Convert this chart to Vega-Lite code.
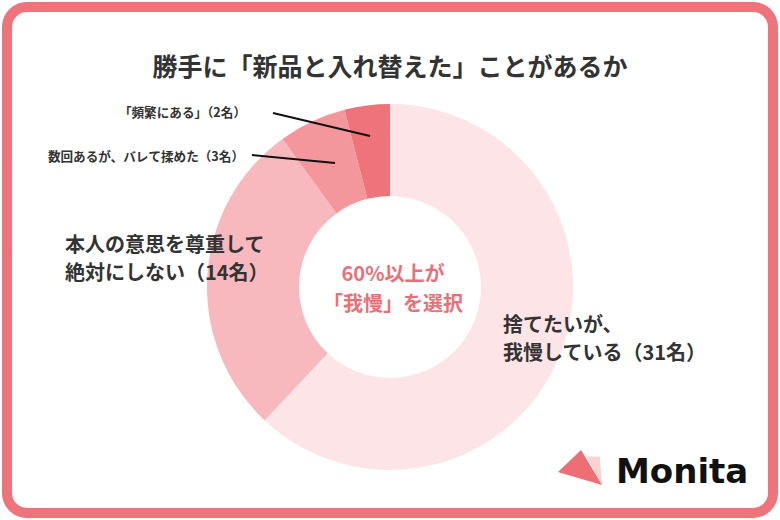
{
  "$schema": "https://vega.github.io/schema/vega-lite/v6.json",
  "autosize": {"type": "fit", "contains": "padding"},
  "width": 780,
  "height": 520,
  "padding": 7,
  "background": "white",
  "view": {"stroke": "#ef737b", "strokeWidth": 10, "cornerRadius": 20, "fill": "white"},
  "config": {
    "view": {"stroke": "#ef737b", "strokeWidth": 10, "cornerRadius": 20, "fill": "white"},
    "font": "Noto Sans CJK JP"
  },
  "datasets": {
    "answers": [
      {"回答": "捨てたいが、我慢している", "人数": 31, "順": 1, "ラベル": "捨てたいが、\n我慢している（31名）"},
      {"回答": "本人の意思を尊重して絶対にしない", "人数": 14, "順": 2, "ラベル": "本人の意思を尊重して\n絶対にしない（14名）"},
      {"回答": "数回あるが、バレて揉めた", "人数": 3, "順": 3, "ラベル": "数回あるが、バレて揉めた（3名）"},
      {"回答": "「頻繁にある」", "人数": 2, "順": 4, "ラベル": "「頻繁にある」（2名）"}
    ]
  },
  "layer": [
    {
      "data": {"name": "answers"},
      "mark": {"type": "arc", "innerRadius": 91, "outerRadius": 183, "x": 383, "y": 280, "stroke": null},
      "encoding": {
        "theta": {"field": "人数", "type": "quantitative", "stack": true},
        "order": {"field": "順", "type": "quantitative"},
        "color": {
          "field": "回答", "type": "nominal", "legend": null,
          "scale": {
            "domain": ["捨てたいが、我慢している", "本人の意思を尊重して絶対にしない", "数回あるが、バレて揉めた", "「頻繁にある」"],
            "range": ["#fde5e7", "#f7b9be", "#f4979d", "#ee737b"]
          }
        }
      }
    },
    {
      "data": {"name": "answers"},
      "transform": [{"filter": "datum['順'] == 1"}],
      "mark": {"type": "text", "x": 496, "y": 319, "align": "left", "baseline": "middle", "fontSize": 20, "fontWeight": "bold", "lineHeight": 28, "lineBreak": "\n", "color": "#333333"},
      "encoding": {"text": {"field": "ラベル", "type": "nominal"}}
    },
    {
      "data": {"name": "answers"},
      "transform": [{"filter": "datum['順'] == 2"}],
      "mark": {"type": "text", "x": 58, "y": 239, "align": "left", "baseline": "middle", "fontSize": 20, "fontWeight": "bold", "lineHeight": 28, "lineBreak": "\n", "color": "#333333"},
      "encoding": {"text": {"field": "ラベル", "type": "nominal"}}
    },
    {
      "data": {"name": "answers"},
      "transform": [{"filter": "datum['順'] == 3"}],
      "mark": {"type": "text", "x": 237, "y": 150, "align": "right", "baseline": "middle", "fontSize": 12.6, "fontWeight": "bold", "color": "#333333"},
      "encoding": {"text": {"field": "ラベル", "type": "nominal"}}
    },
    {
      "data": {"name": "answers"},
      "transform": [{"filter": "datum['順'] == 4"}],
      "mark": {"type": "text", "x": 239, "y": 106, "align": "right", "baseline": "middle", "fontSize": 12.6, "fontWeight": "bold", "color": "#333333"},
      "encoding": {"text": {"field": "ラベル", "type": "nominal"}}
    },
    {
      "data": {"values": [{}]},
      "mark": {"type": "rule", "stroke": "#111111", "strokeWidth": 2},
      "encoding": {"x": {"value": 266}, "y": {"value": 106}, "x2": {"value": 363}, "y2": {"value": 129}}
    },
    {
      "data": {"values": [{}]},
      "mark": {"type": "rule", "stroke": "#111111", "strokeWidth": 2},
      "encoding": {"x": {"value": 245}, "y": {"value": 148}, "x2": {"value": 328}, "y2": {"value": 156}}
    },
    {
      "data": {"values": [{}]},
      "mark": {"type": "text", "text": "勝手に「新品と入れ替えた」ことがあるか", "x": 383, "y": 61, "align": "center", "baseline": "middle", "fontSize": 25, "fontWeight": "bold", "color": "#333333"},
      "encoding": {}
    },
    {
      "data": {"values": [{}]},
      "mark": {"type": "text", "text": ["60%以上が", "「我慢」を選択"], "x": 386, "y": 268, "align": "center", "baseline": "middle", "fontSize": 20, "fontWeight": "bold", "lineHeight": 30, "color": "#ec6f78"},
      "encoding": {}
    },
    {
      "data": {"values": [{}]},
      "mark": {"type": "point", "shape": "M0.3,-0.5L0.9,-0.5L1,0.8Z", "x": 573, "y": 460.5, "size": 1936, "filled": true, "fill": "#f9d3d4", "opacity": 1, "strokeWidth": 0},
      "encoding": {}
    },
    {
      "data": {"values": [{}]},
      "mark": {"type": "point", "shape": "M-1,0.2L0.05,-0.8L1,0.8Z", "x": 573, "y": 460.5, "size": 1936, "filled": true, "fill": "#ee6f73", "opacity": 1, "strokeWidth": 0},
      "encoding": {}
    },
    {
      "data": {"values": [{}]},
      "mark": {"type": "text", "text": "Monita", "x": 609, "y": 476, "align": "left", "baseline": "alphabetic", "fontSize": 34, "fontWeight": "bold", "font": "DejaVu Sans", "color": "#111111"},
      "encoding": {}
    }
  ]
}
